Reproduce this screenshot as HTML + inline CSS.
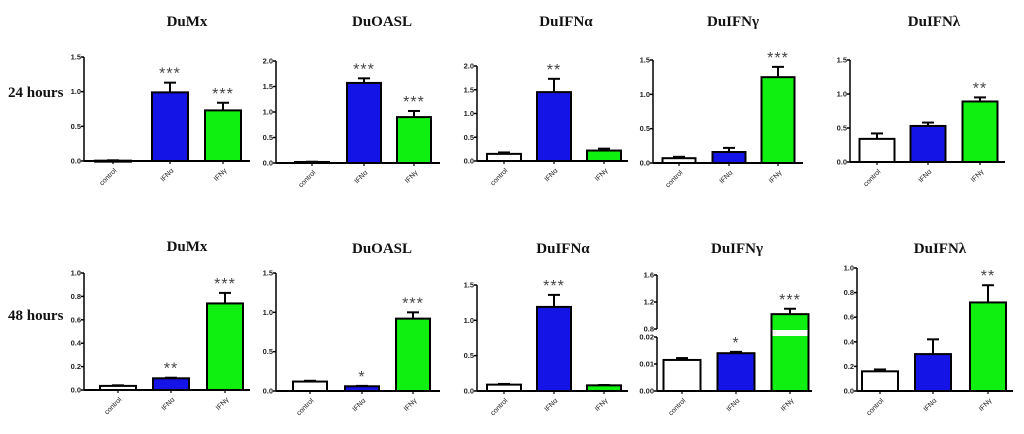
<!DOCTYPE html>
<html><head><meta charset="utf-8">
<style>
html,body{margin:0;padding:0;background:#fff;width:1024px;height:434px;overflow:hidden}
svg{display:block}
.t{font-family:"Liberation Serif",serif;font-weight:bold;font-size:15px;fill:#111}
.tick{font-family:"Liberation Sans",sans-serif;font-weight:bold;font-size:7.5px;fill:#222}
.xl{font-family:"Liberation Sans",sans-serif;font-size:7px;fill:#222}
.star{font-family:"Liberation Sans",sans-serif;font-size:16px;fill:#444}
</style></head><body>
<svg id="chart" width="1024" height="434" viewBox="0 0 1024 434" xmlns="http://www.w3.org/2000/svg">
<text class="t" x="8" y="97">24 hours</text>
<text class="t" x="8" y="320">48 hours</text>
</svg>
<script>
const categories = ['control','IFNα','IFNγ'];
const colors = ['#ffffff','#1414e6','#10f010'];
// 24 hours
const mx24Values = [0.005, 0.99, 0.73];
const mx24Errors = [0.01, 1.13, 0.84];
const mx24Stars = ['', '***', '***'];
const oasl24Values = [0.02, 1.57, 0.90];
const oasl24Errors = [0.025, 1.66, 1.02];
const oasl24Stars = ['', '***', '***'];
const ifna24Values = [0.15, 1.45, 0.22];
const ifna24Errors = [0.18, 1.73, 0.26];
const ifna24Stars = ['', '**', ''];
const ifng24Values = [0.07, 0.16, 1.25];
const ifng24Errors = [0.09, 0.22, 1.40];
const ifng24Stars = ['', '', '***'];
const ifnl24Values = [0.34, 0.53, 0.89];
const ifnl24Errors = [0.42, 0.58, 0.95];
const ifnl24Stars = ['', '', '**'];
// 48 hours
const mx48Values = [0.035, 0.10, 0.74];
const mx48Errors = [0.04, 0.105, 0.83];
const mx48Stars = ['', '**', '***'];
const oasl48Values = [0.12, 0.06, 0.92];
const oasl48Errors = [0.13, 0.065, 1.00];
const oasl48Stars = ['', '*', '***'];
const ifna48Values = [0.09, 1.19, 0.08];
const ifna48Errors = [0.10, 1.36, 0.085];
const ifna48Stars = ['', '***', ''];
const ifng48Values = [0.0115, 0.014, 1.02];
const ifng48Errors = [0.0122, 0.0145, 1.10];
const ifng48Stars = ['', '*', '***'];
const ifnl48Values = [0.16, 0.30, 0.72];
const ifnl48Errors = [0.175, 0.42, 0.86];
const ifnl48Stars = ['', '', '**'];
const ticks15 = ['0.0','0.5','1.0','1.5'];
const ticks20 = ['0.0','0.5','1.0','1.5','2.0'];
const ticks10 = ['0.0','0.2','0.4','0.6','0.8','1.0'];
const ticksLow = ['0.00','0.01','0.02'];
const ticksHigh = ['0.8','1.2','1.6'];

const panels = [
 {id:'dumx-24',title:'DuMx',tx:187,ty:26,ax:84,ay0:161,ay1:57,max:1.5,end:250,cx:[113,170,223],bw:36,v:mx24Values,e:mx24Errors,s:mx24Stars,ticks:ticks15},
 {id:'duoasl-24',title:'DuOASL',tx:382,ty:26,ax:276,ay0:163,ay1:61,max:2.0,end:440,cx:[312,364,414],bw:34,v:oasl24Values,e:oasl24Errors,s:oasl24Stars,ticks:ticks20},
 {id:'duifna-24',title:'DuIFNα',tx:566,ty:26,ax:477,ay0:161,ay1:66,max:2.0,end:628,cx:[504,554,604],bw:34,v:ifna24Values,e:ifna24Errors,s:ifna24Stars,ticks:ticks20},
 {id:'duifng-24',title:'DuIFNγ',tx:733,ty:26,ax:653,ay0:163,ay1:60,max:1.5,end:803,cx:[679,729,778],bw:33,v:ifng24Values,e:ifng24Errors,s:ifng24Stars,ticks:ticks15},
 {id:'duifnl-24',title:'DuIFNλ',tx:934,ty:26,ax:850,ay0:162,ay1:60,max:1.5,end:1005,cx:[877,928,980],bw:35,v:ifnl24Values,e:ifnl24Errors,s:ifnl24Stars,ticks:ticks15},
 {id:'dumx-48',title:'DuMx',tx:187,ty:251,ax:84,ay0:390,ay1:273,max:1.0,end:250,cx:[118,171,225],bw:36,v:mx48Values,e:mx48Errors,s:mx48Stars,ticks:ticks10},
 {id:'duoasl-48',title:'DuOASL',tx:382,ty:253,ax:276,ay0:391,ay1:273,max:1.5,end:440,cx:[310,362,413],bw:34,v:oasl48Values,e:oasl48Errors,s:oasl48Stars,ticks:ticks15},
 {id:'duifna-48',title:'DuIFNα',tx:563,ty:253,ax:477,ay0:391,ay1:285,max:1.5,end:628,cx:[504,554,604],bw:34,v:ifna48Values,e:ifna48Errors,s:ifna48Stars,ticks:ticks15},
 {id:'duifng-48',title:'DuIFNγ',tx:737,ty:253,ax:657,ay0:391,ay1:275,broken:true,end:812,cx:[682,736,790],bw:37,v:ifng48Values,e:ifng48Errors,s:ifng48Stars},
 {id:'duifnl-48',title:'DuIFNλ',tx:940,ty:253,ax:857,ay0:391,ay1:268,max:1.0,end:1013,cx:[880,933,988],bw:36,v:ifnl48Values,e:ifnl48Errors,s:ifnl48Stars,ticks:ticks10}
];
const NS='http://www.w3.org/2000/svg';
const svg=document.getElementById('chart');
function mk(tag,attrs,parent){const el=document.createElementNS(NS,tag);for(const k in attrs)el.setAttribute(k,attrs[k]);(parent||svg).appendChild(el);return el;}

panels.forEach(p=>{
  const g=mk('g',{});
  
  
  const title=mk('text',{class:'t',x:p.tx,y:p.ty,'text-anchor':'middle'},g);
  title.textContent=p.title;
  
  
  let y;
  const lowTop=337, upBot=329;
  if(p.broken){
    y=v=>v<=0.02? p.ay0-(v/0.02)*(p.ay0-lowTop) : upBot-((v-0.8)/0.8)*(upBot-p.ay1);
  } else {
    y=v=>p.ay0-(v/p.max)*(p.ay0-p.ay1);
  }
  const ax=mk('g',{stroke:'#000','stroke-width':1.5,fill:'none'},g);
  
  
  const tl=[];
  if(p.broken){
    mk('line',{x1:p.ax,y1:p.ay0,x2:p.ax,y2:lowTop},ax);
    mk('line',{x1:p.ax,y1:upBot,x2:p.ax,y2:p.ay1},ax);
    ticksLow.forEach(t=>tl.push([t,y(parseFloat(t))]));
    ticksHigh.forEach(t=>tl.push([t,y(parseFloat(t))]));
  } else {
    mk('line',{x1:p.ax,y1:p.ay0,x2:p.ax,y2:p.ay1},ax);
    p.ticks.forEach(t=>tl.push([t,y(parseFloat(t))]));
  }
  tl.forEach(([t,yy])=>{
    mk('line',{x1:p.ax-3,y1:yy,x2:p.ax,y2:yy},ax);
    const tx=mk('text',{class:'tick',x:p.ax-3,y:yy+2.5,'text-anchor':'end'},g);
    tx.textContent=t;
    
    
  });
  const xa=mk('line',{x1:p.ax,y1:p.ay0,x2:p.end,y2:p.ay0,stroke:'#000','stroke-width':2},g);
  
  
  categories.forEach((c,i)=>{
    const cx=p.cx[i], v=p.v[i], ev=p.e[i];
    const x0=cx-p.bw/2;
    const top=y(v);
    const err=mk('line',{x1:cx,y1:y(ev),x2:cx,y2:top,stroke:'#000','stroke-width':2},g);
    
    
    const cap=mk('line',{x1:cx-6,y1:y(ev),x2:cx+6,y2:y(ev),stroke:'#000','stroke-width':2},g);
    
    
    const b=mk('rect',{x:x0,y:top,width:p.bw,height:Math.max(p.ay0-top,1),fill:colors[i],stroke:'#000','stroke-width':2},g);
    
    
    if(p.broken && v>0.8){
      const gap=mk('rect',{x:x0+1,y:upBot+1,width:p.bw-2,height:lowTop-upBot-2,fill:'#fff'},g);
      
      
    }
    mk('line',{x1:cx,y1:p.ay0,x2:cx,y2:p.ay0+3,stroke:'#000','stroke-width':1.2},g);
    const xl=mk('text',{class:'xl',x:cx+4,y:p.ay0+10,'text-anchor':'end',transform:'rotate(-45 '+(cx+4)+' '+(p.ay0+10)+')'},g);
    xl.textContent=c;
    
    
    if(p.s[i]){
      const st=mk('text',{class:'star',x:cx,y:y(ev)-4,'text-anchor':'middle','letter-spacing':'1'},g);
      st.textContent=p.s[i];
      
      
    }
  });
});
</script>
</body></html>
